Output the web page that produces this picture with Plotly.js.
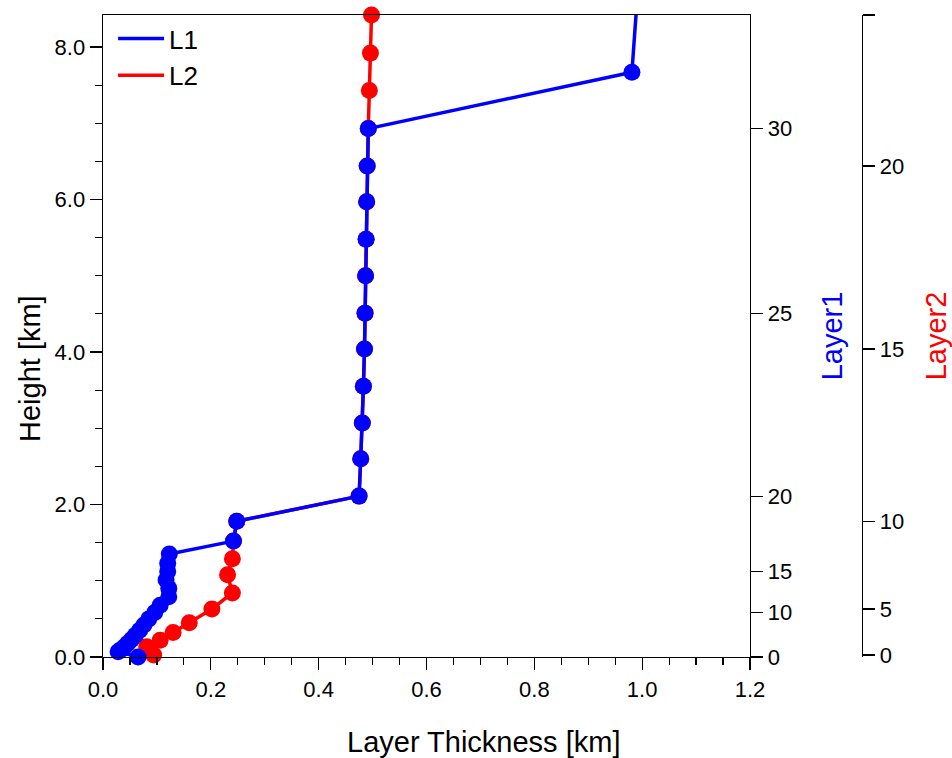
<!DOCTYPE html>
<html>
<head>
<meta charset="utf-8">
<script src="https://cdn.plot.ly/plotly-3.0.1.min.js"></script>
<style>html,body{margin:0;padding:0;background:#fff;}#chart{width:952px;height:758px;}</style>
</head>
<body>
<div id="chart"></div>
<script>
// ---- data ----
// L1: layer thickness [km] and height [km] for layer index 0..32
var l1Thickness = [0.065, 0.028, 0.034, 0.040, 0.046, 0.053, 0.060, 0.068, 0.076, 0.085,
                   0.096, 0.106, 0.122, 0.122, 0.117, 0.120, 0.120, 0.123, 0.242, 0.248,
                   0.475, 0.478, 0.481, 0.483, 0.485, 0.486, 0.487, 0.488, 0.489, 0.490,
                   0.492, 0.981, 0.991];
var l1Height    = [0.00, 0.07, 0.10, 0.135, 0.18, 0.23, 0.285, 0.35, 0.42, 0.50,
                   0.585, 0.68, 0.79, 0.90, 1.01, 1.12, 1.23, 1.35, 1.52, 1.78,
                   2.11, 2.60, 3.07, 3.55, 4.04, 4.51, 5.00, 5.48, 5.97, 6.44,
                   6.93, 7.67, 8.66];
// L2: layer thickness [km] and height [km] for layer index 0..24
var l2Thickness = [0.094, 0.081, 0.106, 0.130, 0.160, 0.202, 0.240, 0.231, 0.240, 0.242,
                   0.248, 0.475, 0.478, 0.481, 0.483, 0.485, 0.486, 0.487, 0.488, 0.489,
                   0.490, 0.492, 0.494, 0.496, 0.498];
var l2Height    = [0.025, 0.135, 0.22, 0.32, 0.45, 0.63, 0.84, 1.08, 1.29, 1.52,
                   1.78, 2.11, 2.60, 3.07, 3.55, 4.04, 4.51, 5.00, 5.48, 5.97,
                   6.44, 6.93, 7.43, 7.92, 8.42];
// layer index tick labels on the two right-hand axes
var l1TickIndex = [0, 10, 15, 20, 25, 30];
var l1TickText  = ['0', '10', '15', '20', '25', '30'];
var l2TickIndex = [0, 5, 10, 15, 20, 24];
var l2TickText  = ['0', '5', '10', '15', '20', ''];
var seriesNames = ['L1', 'L2'];
var xTitle = 'Layer Thickness [km]';
var yTitle = 'Height [km]';

// ---- style ----
var FONT = "'Liberation Sans', Arial, Helvetica, sans-serif";
var BLUE = '#0000ff', RED = '#ff0000';
var yRange = [0, 8.42];
var W = 952, H = 758, ML = 103, MR = 10, MT = 15, MB = 101;
var paperW = W - ML - MR, paperH = H - MT - MB;
var plotW = 647;
var xDomEnd = plotW / paperW;
var l2AxisPos = (862 - ML) / paperW;
function px2x(p) { return (p - ML) / paperW; }
function px2y(p) { return (H - MB - p) / paperH; }

var l1TickVals = l1TickIndex.map(function (i) { return l1Height[i]; });
var l2TickVals = l2TickIndex.map(function (i) { return l2Height[i]; });

var traces = [
  { // L2 data (drawn below L1)
    x: l2Thickness, y: l2Height, xaxis: 'x', yaxis: 'y',
    mode: 'lines+markers', showlegend: false, cliponaxis: false,
    line: { color: RED, width: 3.5 },
    marker: { color: RED, size: 17 }
  },
  { // L1 data
    x: l1Thickness, y: l1Height, xaxis: 'x', yaxis: 'y',
    mode: 'lines+markers', showlegend: false, cliponaxis: false,
    line: { color: BLUE, width: 3.5 },
    marker: { color: BLUE, size: 17 }
  },
  { // legend entry L1 (carries the Layer1 axis)
    x: [null], y: [null], xaxis: 'x', yaxis: 'y2', name: seriesNames[0],
    mode: 'lines', line: { color: BLUE, width: 3.5 }
  },
  { // legend entry L2 (carries the Layer2 axis)
    x: [null], y: [null], xaxis: 'x', yaxis: 'y3', name: seriesNames[1],
    mode: 'lines', line: { color: RED, width: 3.5 }
  }
];

var axCommon = {
  showgrid: false, zeroline: false, showline: true, linecolor: '#000', linewidth: 1.4,
  ticks: 'outside', ticklen: 12, tickwidth: 1.2, tickcolor: '#000',
  tickfont: { family: FONT, size: 22, color: '#000' }
};

var layout = {
  width: W, height: H,
  margin: { l: ML, r: MR, t: MT, b: MB, pad: 0 },
  paper_bgcolor: '#fff', plot_bgcolor: '#fff',
  font: { family: FONT, color: '#000' },
  showlegend: true,
  legend: {
    x: 0.012, y: 1.0, xanchor: 'left', yanchor: 'top',
    bgcolor: 'rgba(0,0,0,0)', borderwidth: 0,
    font: { family: FONT, size: 26, color: '#000' },
    itemwidth: 46, tracegroupgap: 0
  },
  xaxis: Object.assign({}, axCommon, {
    domain: [0, xDomEnd], range: [0, 1.2], tickmode: 'linear', tick0: 0, dtick: 0.2,
    tickformat: '.1f', mirror: true, anchor: 'y',
    minor: { ticks: 'outside', ticklen: 7, tickwidth: 1.2, tickcolor: '#000', dtick: 0.05, showgrid: false },
    title: { text: '' }
  }),
  yaxis: Object.assign({}, axCommon, {
    range: yRange, tickmode: 'linear', tick0: 0, dtick: 2, tickformat: '.1f', anchor: 'x',
    minor: { ticks: 'outside', ticklen: 7, tickwidth: 1.2, tickcolor: '#000', dtick: 0.5, showgrid: false },
    title: { text: '' }
  }),
  yaxis2: Object.assign({}, axCommon, {
    overlaying: 'y', side: 'right', anchor: 'x', range: yRange,
    tickmode: 'array', tickvals: l1TickVals, ticktext: l1TickText,
    title: { text: 'Layer1', font: { family: FONT, size: 29, color: BLUE }, standoff: 30 }
  }),
  yaxis3: Object.assign({}, axCommon, {
    overlaying: 'y', side: 'right', anchor: 'free', position: l2AxisPos, range: yRange,
    tickmode: 'array', tickvals: l2TickVals, ticktext: l2TickText,
    title: { text: 'Layer2', font: { family: FONT, size: 29, color: RED }, standoff: 26 }
  }),
  annotations: [
    { text: xTitle, xref: 'paper', yref: 'paper', x: px2x(483), y: px2y(742),
      xanchor: 'center', yanchor: 'middle', showarrow: false,
      font: { family: FONT, size: 29, color: '#000' } },
    { text: yTitle, xref: 'paper', yref: 'paper', x: px2x(30), y: px2y(369),
      xanchor: 'center', yanchor: 'middle', showarrow: false, textangle: -90,
      font: { family: FONT, size: 29, color: '#000' } }
  ]
};

Plotly.newPlot('chart', traces, layout, { staticPlot: true, displayModeBar: false });
</script>
</body>
</html>
